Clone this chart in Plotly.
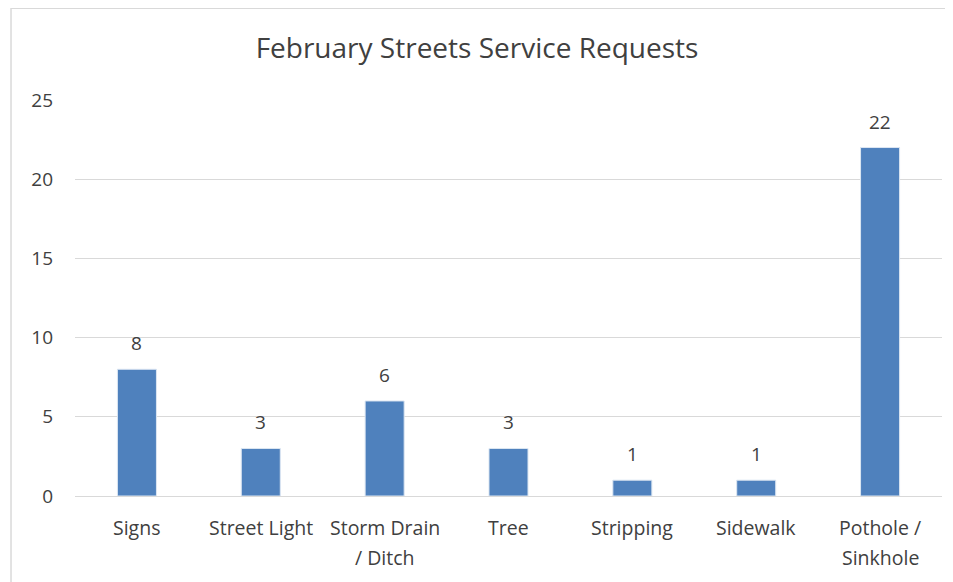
import plotly.graph_objects as go

categories = ["Signs", "Street Light", "Storm Drain / Ditch", "Tree", "Stripping", "Sidewalk", "Pothole / Sinkhole"]
requests = [8, 3, 6, 3, 1, 1, 22]
# how the category names wrap under the axis
label_lines = [
    ["Signs"],
    ["Street Light"],
    ["Storm Drain", "/ Ditch"],
    ["Tree"],
    ["Stripping"],
    ["Sidewalk"],
    ["Pothole /", "Sinkhole"],
]
y_ticks = [0, 5, 10, 15, 20, 25]

FONT = "Open Sans"
TEXT = "#404040"

# page body has an 8px margin, so the figure is 8px smaller than the window
W, H = 945, 574

fig = go.Figure(
    go.Bar(
        x=categories,
        y=requests,
        marker=dict(color="#4F81BD", line=dict(color="#DCE6F2", width=1)),
        hoverinfo="x+y",
    )
)

# value labels above the bars
for cat, val in zip(categories, requests):
    fig.add_annotation(
        x=cat, y=val, text=str(val), showarrow=False,
        yanchor="middle", yshift=26,
        font=dict(family=FONT, size=19, color=TEXT),
    )

# category labels, Excel-style line spacing
for cat, lines in zip(categories, label_lines):
    for i, line in enumerate(lines):
        fig.add_annotation(
            x=cat, y=0, yref="paper", text=line, showarrow=False,
            yanchor="middle", yshift=-31 - 30 * i,
            font=dict(family=FONT, size=19.5, color=TEXT),
        )

# chart frame
fig.add_shape(
    type="rect", xref="paper", yref="paper",
    x0=-0.0738, x1=1.05, y0=-0.3, y1=1.232,
    line=dict(color="#D9D9D9", width=1.5), layer="below",
)

fig.update_layout(
    width=W,
    height=H,
    margin=dict(l=67, r=11, t=92, b=86),
    paper_bgcolor="white",
    plot_bgcolor="white",
    bargap=0.685,
    showlegend=False,
    font=dict(family=FONT, color=TEXT),
    title=dict(
        text="February Streets Service Requests",
        x=0.4963, xref="container", xanchor="center",
        y=1 - 40 / H, yanchor="middle",
        font=dict(family=FONT, size=28, color=TEXT),
    ),
)
fig.update_xaxes(showticklabels=False, showgrid=False, zeroline=False, showline=False)
fig.update_yaxes(
    range=[0, 25],
    tickvals=y_ticks,
    showgrid=True, gridcolor="#D9D9D9", gridwidth=1,
    zeroline=True, zerolinecolor="#D9D9D9", zerolinewidth=1,
    showline=False,
    ticks="",
    ticklabelstandoff=21,
    tickfont=dict(family=FONT, size=19, color=TEXT),
)

fig.write_html("out.html")
